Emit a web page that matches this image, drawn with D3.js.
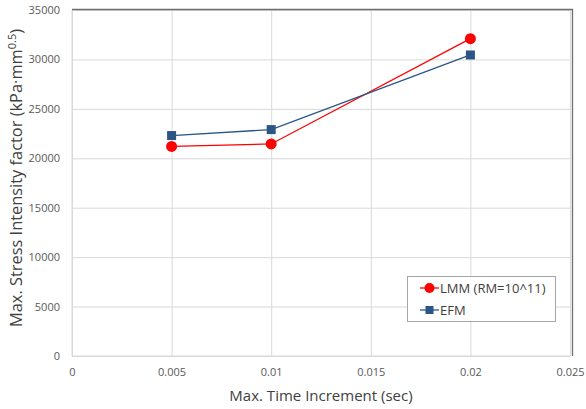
<!DOCTYPE html>
<html>
<head>
<meta charset="utf-8">
<script src="https://cdn.jsdelivr.net/npm/d3@7"></script>
<style>
  html, body { margin: 0; padding: 0; background: #fff; }
  svg { display: block; font-family: "Open Sans", "Liberation Sans", sans-serif; }
</style>
</head>
<body>
<svg id="chart" width="586" height="409"></svg>
<script>
// Time increments (sec) and maximum stress intensity factors (kPa·mm^0.5)
const timeIncrements = [0.005, 0.01, 0.02];
const lmmValues = [21200, 21450, 32100];
const efmValues = [22300, 22900, 30450];
const xTicks = [0, 0.005, 0.01, 0.015, 0.02, 0.025];
const yTicks = [0, 5000, 10000, 15000, 20000, 25000, 30000, 35000];
const seriesNames = ["LMM (RM=10^11)", "EFM"];

const svg = d3.select("#chart");
const plotLeft = 72, plotRight = 570, plotTop = 10, plotBottom = 356;

const x = d3.scaleLinear().domain([0, 0.025]).range([plotLeft, plotRight]);
const y = d3.scaleLinear().domain([0, 35000]).range([plotBottom, plotTop]);

const gridColor = "#d9d9d9";
const tickColor = "#595959";
const labelFont = "'Open Sans', 'Liberation Sans', sans-serif";

// Horizontal gridlines
svg.append("g")
  .attr("transform", `translate(${plotLeft},0)`)
  .call(d3.axisLeft(y).tickValues(yTicks).tickSize(-(plotRight - plotLeft)).tickFormat(""))
  .call(g => g.select(".domain").remove())
  .call(g => g.selectAll("line").attr("stroke", gridColor));

// Vertical gridlines
svg.append("g")
  .attr("transform", `translate(0,${plotBottom})`)
  .call(d3.axisBottom(x).tickValues(xTicks).tickSize(-(plotBottom - plotTop)).tickFormat(""))
  .call(g => g.select(".domain").remove())
  .call(g => g.selectAll("line").attr("stroke", gridColor));

// Y tick labels
svg.append("g")
  .attr("transform", `translate(${plotLeft},0)`)
  .call(d3.axisLeft(y).tickValues(yTicks).tickSize(0).tickPadding(12).tickFormat(d3.format("d")))
  .call(g => g.select(".domain").remove())
  .call(g => g.selectAll("text").attr("fill", tickColor).attr("font-size", 11)
    .attr("font-family", labelFont));

// X tick labels
svg.append("g")
  .attr("transform", `translate(0,${plotBottom})`)
  .call(d3.axisBottom(x).tickValues(xTicks).tickSize(0).tickPadding(12).tickFormat(d => d === 0 ? "0" : String(d)))
  .call(g => g.select(".domain").remove())
  .call(g => g.selectAll("text").attr("fill", tickColor).attr("font-size", 11)
    .attr("font-family", labelFont));

// Plot-area frame: light axes on left/bottom, darker edge on top/right
svg.append("line").attr("x1", plotLeft).attr("x2", plotLeft).attr("y1", plotTop).attr("y2", plotBottom)
  .attr("stroke", gridColor);
svg.append("line").attr("x1", plotLeft).attr("x2", plotRight).attr("y1", plotBottom).attr("y2", plotBottom)
  .attr("stroke", gridColor);
svg.append("path")
  .attr("d", `M${plotLeft},${plotTop - 0.5}H${plotRight + 2.5}V${plotBottom}`)
  .attr("fill", "none").attr("stroke", "#6e6e6e").attr("stroke-width", 1.3);

const red = "#ff0000", blue = "#2a5585";

const line = d3.line().x(d => x(d[0])).y(d => y(d[1]));
const lmm = timeIncrements.map((t, i) => [t, lmmValues[i]]);
const efm = timeIncrements.map((t, i) => [t, efmValues[i]]);

svg.append("path").datum(lmm).attr("d", line)
  .attr("fill", "none").attr("stroke", red).attr("stroke-width", 1.3);
svg.append("path").datum(efm).attr("d", line)
  .attr("fill", "none").attr("stroke", blue).attr("stroke-width", 1.3);

svg.append("g").selectAll("circle").data(lmm).join("circle")
  .attr("cx", d => x(d[0])).attr("cy", d => y(d[1])).attr("r", 5.5).attr("fill", red);
svg.append("g").selectAll("rect").data(efm).join("rect")
  .attr("x", d => x(d[0]) - 4.5).attr("y", d => y(d[1]) - 4.5)
  .attr("width", 9).attr("height", 9).attr("fill", blue);

// Axis titles
svg.append("text")
  .attr("x", (plotLeft + plotRight) / 2).attr("y", 401)
  .attr("text-anchor", "middle").attr("font-size", 15).attr("fill", "#404040")
  .text("Max. Time Increment (sec)");

const yTitle = svg.append("text")
  .attr("transform", `translate(22,178) rotate(-90)`)
  .attr("text-anchor", "middle").attr("font-size", 16.4).attr("fill", "#404040");
yTitle.append("tspan").text("Max. Stress Intensity factor (kPa·mm");
yTitle.append("tspan").attr("font-size", 11).attr("dy", -6).text("0.5");
yTitle.append("tspan").attr("dy", 6).text(")");

// Legend
const lg = svg.append("g");
lg.append("rect").attr("x", 407.5).attr("y", 276.5).attr("width", 148).attr("height", 45)
  .attr("fill", "#fff").attr("stroke", "#a6a6a6");
const legendItems = [
  { name: seriesNames[0], color: red, shape: "circle" },
  { name: seriesNames[1], color: blue, shape: "square" }
];
legendItems.forEach((it, i) => {
  const cy = 288 + i * 22;
  lg.append("line").attr("x1", 420).attr("x2", 439).attr("y1", cy).attr("y2", cy)
    .attr("stroke", it.color).attr("stroke-width", 1.3);
  if (it.shape === "circle") {
    lg.append("circle").attr("cx", 429.5).attr("cy", cy).attr("r", 5).attr("fill", it.color);
  } else {
    lg.append("rect").attr("x", 425.5).attr("y", cy - 4).attr("width", 8).attr("height", 8).attr("fill", it.color);
  }
  lg.append("text").attr("x", 440).attr("y", cy + 4.5).attr("font-size", 13).attr("fill", "#404040")
    .text(it.name);
});
</script>
</body>
</html>
